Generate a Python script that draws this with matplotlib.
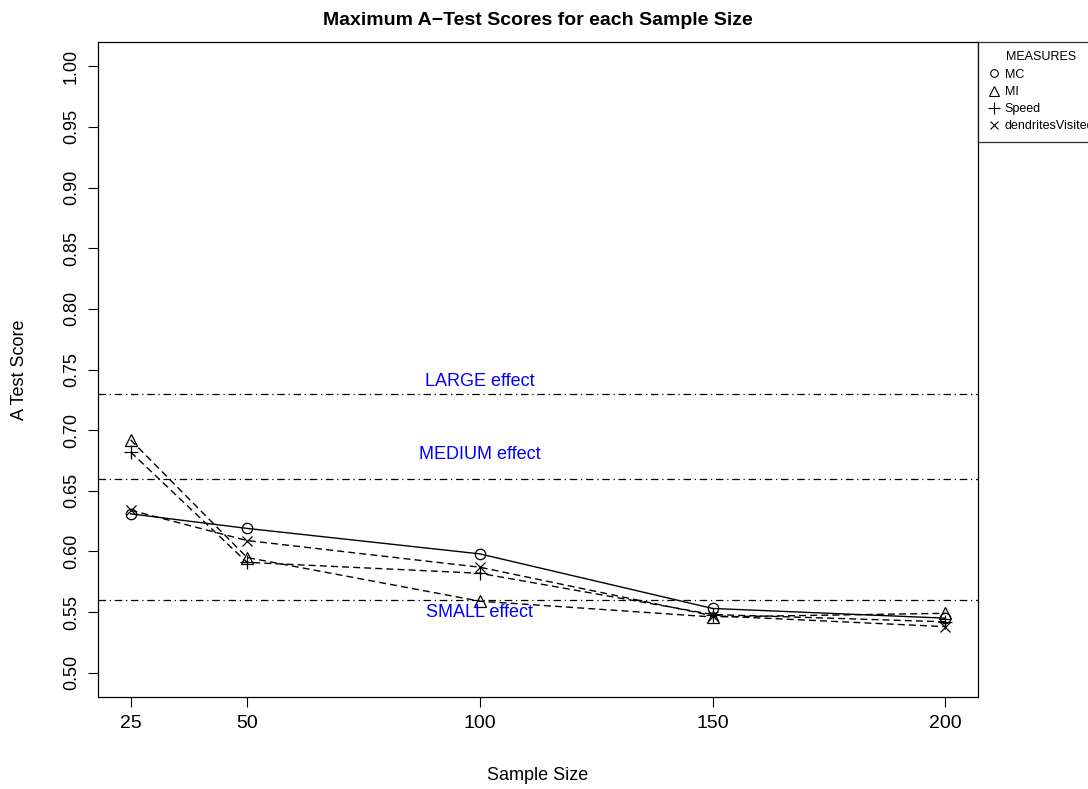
import matplotlib
matplotlib.use("Agg")
import matplotlib.pyplot as plt
from matplotlib.lines import Line2D

plt.rcParams['font.family'] = ['Liberation Sans', 'DejaVu Sans']

sample_sizes = [25, 50, 100, 150, 200]
mc = [0.631, 0.619, 0.598, 0.553, 0.545]
mi = [0.692, 0.595, 0.559, 0.546, 0.549]
speed = [0.682, 0.591, 0.582, 0.548, 0.542]
dendrites = [0.634, 0.609, 0.587, 0.547, 0.538]
effect_levels = [0.56, 0.66, 0.73]
effect_labels = ["SMALL effect", "MEDIUM effect", "LARGE effect"]
effect_label_y = [0.550, 0.680, 0.740]
yticks = [0.50, 0.55, 0.60, 0.65, 0.70, 0.75, 0.80, 0.85, 0.90, 0.95, 1.00]

fig = plt.figure(figsize=(10.88, 7.89), dpi=100)
ax = fig.add_axes([98/1088, 1-697/789, 880/1088, 655/789])

dash = (0, (5, 3))
ax.plot(sample_sizes, mc, color='black', lw=1, ls='-', marker='o', mfc='none', ms=7.5, mew=0.9)
ax.plot(sample_sizes, mi, color='black', lw=1, ls=dash, marker='^', mfc='none', ms=8.5, mew=0.9)
ax.plot(sample_sizes, speed, color='black', lw=1, ls=dash, marker='+', ms=10, mew=0.9)
ax.plot(sample_sizes, dendrites, color='black', lw=1, ls=dash, marker='x', ms=7, mew=0.9)

for lvl in effect_levels:
    ax.axhline(lvl, color='black', lw=0.9, ls=(0, (6, 3, 1, 3)))
for lab, yy in zip(effect_labels, effect_label_y):
    ax.text(100, yy, lab, color='#0000ff', fontsize=13, ha='center', va='center')

ax.set_xlim(18, 207)
ax.set_ylim(0.48, 1.02)
ax.set_xticks(sample_sizes)
ax.set_xticklabels([str(s) for s in sample_sizes], fontsize=14)
ax.set_yticks(yticks)
ax.set_yticklabels([f"{v:.2f}" for v in yticks], fontsize=13, rotation=90, va='center')
ax.tick_params(direction='out', length=7, width=0.8, pad=6)
for s in ax.spines.values():
    s.set_linewidth(0.9)

ax.set_title("Maximum A\u2212Test Scores for each Sample Size", fontsize=14, fontweight='bold', pad=12)
fig.text(538/1088, 1-776/789, "Sample Size", fontsize=13, ha='center', va='center')
fig.text(20/1088, 1-370/789, "A Test Score", fontsize=13, ha='center', va='center', rotation=90)

handles = [
    Line2D([], [], ls='none', marker='o', mfc='none', mec='black', ms=5.5, mew=0.8),
    Line2D([], [], ls='none', marker='^', mfc='none', mec='black', ms=6.5, mew=0.8),
    Line2D([], [], ls='none', marker='+', color='black', ms=8, mew=0.8),
    Line2D([], [], ls='none', marker='x', color='black', ms=5.5, mew=0.8),
]
leg = ax.legend(handles, ["MC", "MI", "Speed", "dendritesVisited"], title="MEASURES",
                loc='upper left', bbox_to_anchor=(1.0, 1.0), fontsize=9, title_fontsize=9,
                frameon=True, fancybox=False, edgecolor='black', borderaxespad=0,
                handlelength=1.0, handletextpad=0.4, labelspacing=0.42, borderpad=0.75)
leg.get_frame().set_linewidth(0.9)

fig.savefig("out.png", dpi=100)
